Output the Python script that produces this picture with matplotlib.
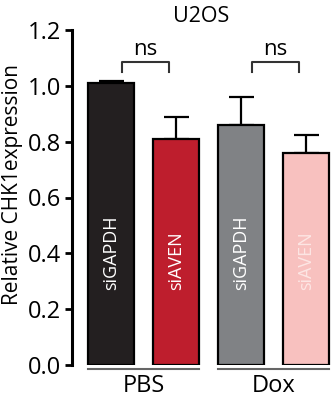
import matplotlib.pyplot as plt
import numpy as np

plt.rcParams['font.family'] = ['Open Sans', 'DejaVu Sans']

# CHK1 expression, U2OS
groups = ["PBS", "Dox"]
labels = ["siGAPDH", "siAVEN", "siGAPDH", "siAVEN"]
means = [1.01, 0.81, 0.86, 0.76]
errs = [0.007, 0.08, 0.10, 0.065]
colors = ["#231f20", "#be1e2d", "#808285", "#f8c1bf"]
text_colors = ["white", "white", "white", "#fde6e4"]
sig = ["ns", "ns"]

fig = plt.figure(figsize=(3.31, 4.0), dpi=100)
ax = fig.add_axes([0.2175, 0.0875, 0.7825, 0.8375])

x = np.arange(len(means))
w = 0.7
ax.bar(x, means, width=w, color=colors, edgecolor="black", linewidth=1.6, zorder=2)
ax.errorbar(x, means, yerr=[np.zeros(len(errs)), errs], fmt="none",
            ecolor="black", elinewidth=1.6, capsize=9, capthick=1.6, zorder=1)

# bar names written inside the bars
for xi, lab, tc in zip(x, labels, text_colors):
    ax.text(xi, 0.27, lab, rotation=90, ha="center", va="bottom",
            color=tc, fontsize=13)

# ns brackets
for i, s in enumerate(sig):
    x0 = 2 * i + 0.17
    x1 = 2 * i + 0.89
    ax.plot([x0, x0, x1, x1], [1.050, 1.086, 1.086, 1.050], color="#333333",
            lw=1.5, clip_on=False)
    ax.text((x0 + x1) / 2, 1.092, s, ha="center", va="bottom", fontsize=16)

# group underlines + labels
for i, g in enumerate(groups):
    x0 = 2 * i - w / 2
    x1 = 2 * i + 1 + w / 2
    ax.plot([x0, x1], [-0.016, -0.016], color="#666666", lw=1.5, clip_on=False)
    ax.text((x0 + x1) / 2, -0.032, g, ha="center", va="top", fontsize=17)

ax.set_xlim(-0.6, 3.385)
ax.set_ylim(0, 1.2)
ax.set_yticks([0, 0.2, 0.4, 0.6, 0.8, 1.0, 1.2])
ax.set_yticklabels(["0.0", "0.2", "0.4", "0.6", "0.8", "1.0", "1.2"])
ax.set_xticks([])
ax.tick_params(axis="y", labelsize=17, width=2, length=5, pad=3)
for sp in ["top", "right", "bottom"]:
    ax.spines[sp].set_visible(False)
ax.spines["left"].set_linewidth(2.2)
ax.set_ylabel("Relative CHK1expression", fontsize=15)
ax.yaxis.set_label_coords(-0.19, 0.54)
ax.set_title("U2OS", fontsize=15.5, pad=6)

fig.savefig("out.png", dpi=100)
